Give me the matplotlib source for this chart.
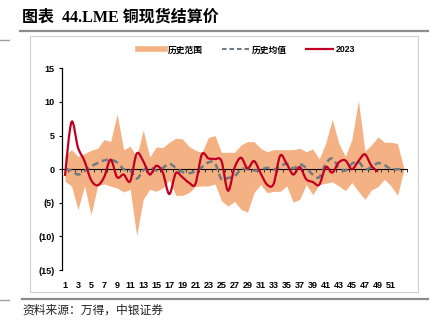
import matplotlib
matplotlib.use("Agg")
import matplotlib.pyplot as plt
import numpy as np
from matplotlib.lines import Line2D
from matplotlib.patches import PathPatch, Rectangle
from matplotlib.path import Path
from matplotlib.ticker import FuncFormatter, FixedLocator, NullFormatter

# week index 1..53
weeks = list(range(1, 54))

hist_max = [2.0, 2.9, 1.9, 2.3, 2.8, 3.1, 4.4, 4.1, 8.2, 2.9,
            3.4, 1.9, 5.8, 1.8, 3.3, 3.2, 4.0, 4.6, 4.5, 3.4,
            2.8, 2.5, 4.7, 5.0, 2.5, 2.5, 2.5, 3.6, 4.1, 4.1,
            3.1, 2.6, 2.9, 2.9, 2.9, 2.9, 3.1, 2.6, 3.0, 1.5,
            3.9, 7.4, 3.8, 1.9, 4.4, 10.2, 2.7, 3.6, 4.8, 4.0,
            4.0, 3.8, 0.0]
hist_min = [-1.8, -2.5, -6.0, -2.5, -6.8, -2.5, -2.2, -2.5, -2.8, -3.4,
            -3.0, -9.9, -4.5, -3.0, -3.3, -2.8, -1.6, -3.9, -3.9, -3.5,
            -2.6, -2.5, -2.5, -2.2, -4.7, -5.5, -4.8, -6.0, -6.4, -3.5,
            -2.3, -3.5, -3.3, -3.3, -2.5, -4.9, -4.5, -2.3, -3.8, -2.3,
            -2.1, -1.9, -2.5, -3.2, -2.0, -3.3, -4.5, -3.1, -2.6, -1.5,
            -2.5, -3.9, 0.0]
hist_mean = [0.0, -0.2, -0.8, -0.3, 0.4, 0.9, 1.3, 1.4, 1.0, 0.0,
             -0.2, -1.4, -0.2, 0.3, -0.2, 0.2, 0.8, 0.2, -0.4, -0.6,
             -0.3, 0.3, 1.0, 0.9, -1.5, -1.3, -1.1, 0.0, 0.0, -0.2,
             -0.1, 0.2, -0.1, 0.4, 0.8, 0.1, 0.7, 0.2, -0.8, -1.2,
             0.8, 1.6, 0.2, -0.2, 0.8, 1.1, 0.0, 0.3, 0.9, 0.6,
             0.0, 0.0, 0.0]
# 2023 runs to week 49
y2023 = [-1.0, 7.0, 3.2, 1.2, -1.6, -2.4, -1.2, 1.4, -1.2, -0.8,
         -1.8, 2.3, 1.2, -0.8, 0.5, -0.5, -3.7, -0.6, -1.2, -2.0,
         -2.2, 2.2, 1.6, 1.5, 1.2, -3.2, 0.2, 1.7, 0.1, 1.2,
         -0.6, -2.3, -2.2, 2.0, 0.8, -0.8, 0.3, -1.5, -1.9, -2.3,
         0.3, -0.5, 1.0, 1.3, 0.0, 1.2, 2.2, 0.5, -0.4]

tick_weeks = list(range(1, 52, 2))

BAND = "#F4B183"
MEAN = "#6F7A84"
RED = "#C00023"
CJK = ["Liberation Sans", "Noto Sans CJK SC"]


def smooth_path(xs, ys):
    # Excel style smoothed line: Catmull-Rom segments as cubic Beziers
    pts = np.column_stack([xs, ys]).astype(float)
    verts = [pts[0]]
    codes = [Path.MOVETO]
    n = len(pts)
    for i in range(n - 1):
        p0 = pts[max(i - 1, 0)]
        p1 = pts[i]
        p2 = pts[i + 1]
        p3 = pts[min(i + 2, n - 1)]
        verts += [p1 + (p2 - p0) / 6, p2 - (p3 - p1) / 6, p2]
        codes += [Path.CURVE4] * 3
    return Path(verts, codes)


fig = plt.figure(figsize=(4.31, 3.22), dpi=100)
W, H = 431, 322

# outer chart frame
fig.patches.append(Rectangle((30 / W, 1 - 291.5 / H), 388 / W, 255.5 / H,
                             transform=fig.transFigure, fill=False,
                             edgecolor="#D0D0D0", lw=0.8))

fig.text(22 / W, 1 - 18 / H, "图表  44.LME 铜现货结算价", fontsize=11.5, fontweight="bold",
         family=["Liberation Serif", "Noto Sans CJK SC"], ha="left", va="center")
fig.add_artist(Line2D([20 / W, 428 / W], [1 - 31 / H] * 2, color="#8C8C8C", lw=1.6))
fig.add_artist(Line2D([0, 9 / W], [1 - 40 / H] * 2, color="#A0A0A0", lw=1.0))
fig.add_artist(Line2D([22 / W, 428 / W], [1 - 299 / H] * 2, color="#8C8C8C", lw=1.6))
fig.add_artist(Line2D([0, 9 / W], [1 - 300 / H] * 2, color="#A0A0A0", lw=1.0))
fig.text(22 / W, 1 - 311 / H, "资料来源：万得，中银证券", fontsize=8.5,
         family=CJK, color="#222222", ha="left", va="center")

ax = fig.add_axes([61.7 / W, 1 - 270 / H, 345.6 / W, 201.7 / H])
ax.fill_between(weeks, hist_min, hist_max, color=BAND, lw=0, zorder=1)
ax.add_patch(PathPatch(smooth_path(weeks, hist_mean), fill=False, edgecolor=MEAN,
                       lw=1.8, linestyle=(0, (2.6, 1.6)), zorder=3))
ax.add_patch(PathPatch(smooth_path(weeks[:len(y2023)], y2023), fill=False,
                       edgecolor=RED, lw=1.6, zorder=4))

ax.set_xlim(0.5, 53.5)
ax.set_ylim(-15, 15)
ax.set_yticks([15, 10, 5, 0, -5, -10, -15])
ax.yaxis.set_major_formatter(FuncFormatter(lambda v, _: f"({abs(v):.0f})" if v < 0 else f"{v:.0f}"))
ax.set_xticks(tick_weeks)
ax.set_xticklabels([str(w) for w in tick_weeks])
for side in ["top", "right", "bottom"]:
    ax.spines[side].set_visible(False)
ax.spines["left"].set_linewidth(0.9)
ax.tick_params(axis="y", direction="out", length=2.5, width=0.8, pad=2.5)
ax.tick_params(axis="x", length=0, pad=8)
for lab in ax.get_xticklabels() + ax.get_yticklabels():
    lab.set_fontsize(6.5)
    lab.set_fontweight("bold")
    lab.set_family("Liberation Sans")

# category axis crossing at zero
zero_axis = ax.secondary_xaxis(0.5)
zero_axis.xaxis.set_major_locator(FixedLocator(np.arange(0.5, 54, 1.0)))
zero_axis.xaxis.set_major_formatter(NullFormatter())
zero_axis.tick_params(direction="in", length=2.5, width=0.7, labelbottom=False,
                      labeltop=False, colors="#333333")
zero_axis.spines["bottom"].set_linewidth(0.9)
zero_axis.spines["bottom"].set_color("#333333")
zero_axis.set_zorder(2)
zero_axis.patch.set_visible(False)

handles = [Line2D([], [], color=BAND, lw=4),
           Line2D([], [], color=MEAN, lw=1.5, linestyle=(0, (2.2, 1.4))),
           Line2D([], [], color=RED, lw=1.6)]
leg = fig.legend(handles, ["历史范围", "历史均值", "2023"], loc="center",
                 bbox_to_anchor=(247 / W, 1 - 50 / H), ncol=3, frameon=False,
                 handlelength=3.0, handletextpad=0.4, columnspacing=2.2,
                 prop={"family": CJK, "weight": "bold", "size": 6.3})

fig.savefig("out.png", dpi=100)
